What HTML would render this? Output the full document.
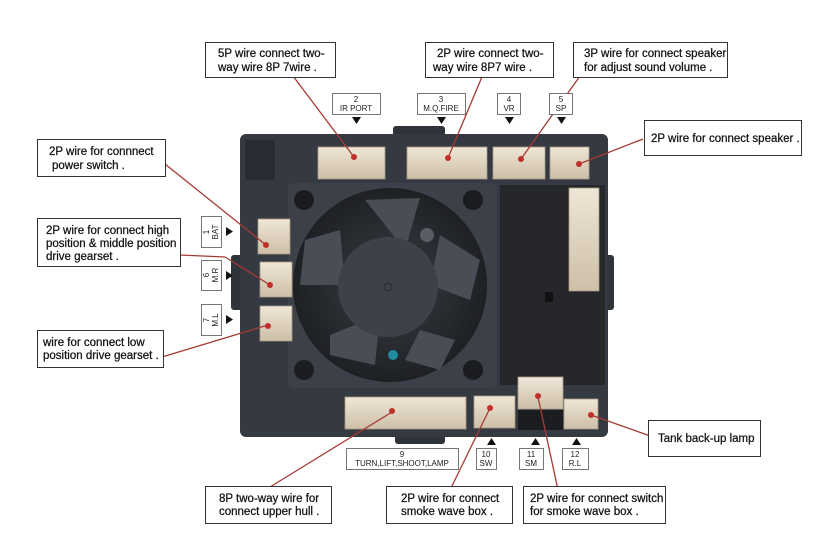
<!DOCTYPE html>
<html><head><meta charset="utf-8"><style>
html,body{margin:0;padding:0;background:#fff;}
svg{display:block;font-family:"Liberation Sans",Arial,sans-serif;}
.lb{font-size:11.5px;fill:#111;stroke:#111;stroke-width:0.25;}
.sm{font-size:8px;fill:#222;}
</style></head><body>
<svg width="831" height="558" viewBox="0 0 831 558" xmlns="http://www.w3.org/2000/svg">
<defs>
<linearGradient id="con" x1="0" y1="0" x2="0" y2="1"><stop offset="0" stop-color="#efe6d6"/><stop offset="1" stop-color="#cdbfa8"/></linearGradient>
<radialGradient id="fan" cx="0.5" cy="0.5" r="0.5"><stop offset="0" stop-color="#3a3d44"/><stop offset="1" stop-color="#1e2024"/></radialGradient>
</defs>
<rect width="831" height="558" fill="#fff"/>
<rect x="393" y="126" width="52" height="12" rx="3" fill="#2f333a"/>
<rect x="395" y="434" width="50" height="10" rx="3" fill="#2f333a"/>
<rect x="231" y="255" width="12" height="55" rx="3" fill="#2f333a"/>
<rect x="604" y="255" width="10" height="55" rx="3" fill="#2f333a"/>
<rect x="240" y="134" width="368" height="303" rx="6" fill="#353942"/>
<rect x="245" y="140" width="30" height="40" fill="#2a2d33"/>
<rect x="500" y="185" width="105" height="200" fill="#25272b"/>
<rect x="545" y="292" width="8" height="10" fill="#111"/>
<rect x="288" y="183" width="209" height="205" rx="6" fill="#3c4048"/>
<circle cx="304" cy="200" r="10" fill="#1b1c1f"/><circle cx="473" cy="200" r="10" fill="#1b1c1f"/>
<circle cx="304" cy="370" r="10" fill="#1b1c1f"/><circle cx="473" cy="370" r="10" fill="#1b1c1f"/>
<circle cx="390" cy="285" r="97" fill="url(#fan)"/>
<path d="M365 200 L420 198 L405 250 Z" fill="#4a4d55"/>
<path d="M440 235 L480 260 L470 300 L430 285 Z" fill="#4a4d55"/>
<path d="M305 240 L340 230 L345 285 L300 285 Z" fill="#4a4d55"/>
<path d="M330 335 L380 315 L375 365 L330 355 Z" fill="#4a4d55"/>
<path d="M420 330 L455 340 L440 370 L405 360 Z" fill="#4a4d55"/>
<circle cx="388" cy="287" r="50" fill="#3e4149"/>
<circle cx="388" cy="287" r="4" fill="none" stroke="#2a2c30"/>
<circle cx="393" cy="355" r="5" fill="#1f8aa0"/>
<circle cx="427" cy="235" r="7" fill="#5a5d66"/>
<g fill="url(#con)" stroke="#a89a84" stroke-width="0.8">
<rect x="318" y="147" width="67" height="32"/>
<rect x="407" y="147" width="80" height="32"/>
<rect x="493" y="147" width="52" height="32"/>
<rect x="550" y="147" width="39" height="32"/>
<rect x="569" y="188" width="30" height="103"/>
<rect x="258" y="219" width="32" height="35"/>
<rect x="260" y="262" width="32" height="35"/>
<rect x="260" y="306" width="32" height="35"/>
<rect x="345" y="397" width="121" height="32"/>
<rect x="474" y="396" width="41" height="32"/>
<rect x="518" y="377" width="45" height="32"/>
<rect x="564" y="399" width="34" height="30"/>
</g>
<rect x="518" y="410" width="45" height="20" fill="#1c1d20"/>
<g stroke="#a43a34" stroke-width="1.3" fill="none">
<line x1="290" y1="72" x2="354" y2="157"/>
<line x1="484" y1="72" x2="448" y2="158"/>
<line x1="580" y1="76" x2="521" y2="159"/>
<line x1="643" y1="139" x2="579" y2="164"/>
<line x1="160" y1="160" x2="266" y2="245"/>
<line x1="180" y1="255" x2="225" y2="257"/><line x1="225" y1="257" x2="270" y2="285"/>
<line x1="162" y1="357" x2="268" y2="325"/>
<line x1="270" y1="487" x2="392" y2="412"/>
<line x1="451" y1="488" x2="490" y2="408"/>
<line x1="558" y1="490" x2="538" y2="397"/>
<line x1="653" y1="437" x2="591" y2="415"/>
</g>
<g fill="#c0302a">
<circle cx="354" cy="157" r="3"/><circle cx="448" cy="158" r="3"/><circle cx="521" cy="159" r="3"/><circle cx="579" cy="164" r="3"/>
<circle cx="266" cy="245" r="3"/><circle cx="270" cy="285" r="3"/><circle cx="268" cy="326" r="3"/>
<circle cx="392" cy="411" r="3"/><circle cx="490" cy="408" r="3"/><circle cx="538" cy="396" r="3"/><circle cx="591" cy="415" r="3"/>
</g>
<g fill="#fff" stroke="#333" stroke-width="1">
<rect x="205.5" y="42.5" width="130" height="35"/>
<rect x="425.5" y="42.5" width="128" height="35"/>
<rect x="573.5" y="42.5" width="154" height="35"/>
<rect x="644.5" y="120.5" width="157" height="35"/>
<rect x="37.5" y="139.5" width="128" height="37"/>
<rect x="37.5" y="218.5" width="143" height="48"/>
<rect x="37.5" y="330.5" width="126" height="37"/>
<rect x="205.5" y="486.5" width="126" height="37"/>
<rect x="386.5" y="486.5" width="126" height="37"/>
<rect x="523.5" y="486.5" width="142" height="37"/>
<rect x="648.5" y="420.5" width="112" height="36"/>
</g>
<g class="lb">
<text x="218" y="57">5P wire connect two-</text><text x="218" y="71">way wire 8P 7wire .</text>
<text x="437" y="57">2P wire connect two-</text><text x="433" y="71">way wire 8P7 wire .</text>
<text x="584" y="57">3P wire for connect speaker</text><text x="584" y="71">for adjust sound volume .</text>
<text x="651" y="142">2P wire for connect speaker .</text>
<text x="49" y="155">2P wire for connnect</text><text x="52" y="169">power switch .</text>
<text x="46" y="234">2P wire for connect high</text><text x="46" y="247">position &amp; middle position</text><text x="46" y="260">drive gearset .</text>
<text x="43" y="346">wire for connect low</text><text x="43" y="359">position drive gearset .</text>
<text x="219" y="502">8P two-way wire for</text><text x="219" y="515">connect upper hull .</text>
<text x="401" y="502">2P wire for connect</text><text x="401" y="515">smoke wave box .</text>
<text x="530" y="502">2P wire for connect switch</text><text x="530" y="515">for smoke wave box .</text>
<text x="658" y="442">Tank back-up lamp</text>
</g>
<g fill="#fff" stroke="#555" stroke-width="0.8">
<rect x="332.5" y="93.5" width="48" height="21"/><rect x="417.5" y="93.5" width="48" height="21"/>
<rect x="497.5" y="93.5" width="23" height="21"/><rect x="549.5" y="93.5" width="23" height="21"/>
<rect x="346.5" y="448.5" width="112" height="21"/><rect x="476.5" y="448.5" width="20" height="21"/>
<rect x="519.5" y="448.5" width="24" height="21"/><rect x="562.5" y="448.5" width="26" height="21"/>
<rect x="201.5" y="216.5" width="20" height="31"/><rect x="201.5" y="260.5" width="20" height="30"/><rect x="201.5" y="304.5" width="20" height="31"/>
</g>
<g class="sm" text-anchor="middle">
<text x="356" y="102">2</text><text x="356" y="111">IR PORT</text>
<text x="441" y="102">3</text><text x="441" y="111">M.Q.FIRE</text>
<text x="509" y="102">4</text><text x="509" y="111">VR</text>
<text x="561" y="102">5</text><text x="561" y="111">SP</text>
<text x="402" y="457">9</text><text x="402" y="466">TURN,LIFT,SHOOT,LAMP</text>
<text x="486" y="457">10</text><text x="486" y="466">SW</text>
<text x="531" y="457">11</text><text x="531" y="466">SM</text>
<text x="575" y="457">12</text><text x="575" y="466">R.L</text>
<g transform="translate(211 232) rotate(-90)"><text x="0" y="-2">1</text><text x="0" y="7">BAT</text></g>
<g transform="translate(211 275) rotate(-90)"><text x="0" y="-2">6</text><text x="0" y="7">M.R</text></g>
<g transform="translate(211 320) rotate(-90)"><text x="0" y="-2">7</text><text x="0" y="7">M.L</text></g>
</g>
<g fill="#111">
<path d="M352 117 h9 l-4.5 7z"/><path d="M437 117 h9 l-4.5 7z"/><path d="M505 117 h9 l-4.5 7z"/><path d="M557 117 h9 l-4.5 7z"/>
<path d="M487 445 h9 l-4.5 -7z"/><path d="M531 445 h9 l-4.5 -7z"/><path d="M572 445 h9 l-4.5 -7z"/>
<path d="M226 227 v9 l7 -4.5z"/><path d="M226 271 v9 l7 -4.5z"/><path d="M226 315 v9 l7 -4.5z"/>
</g>
</svg>
</body></html>
